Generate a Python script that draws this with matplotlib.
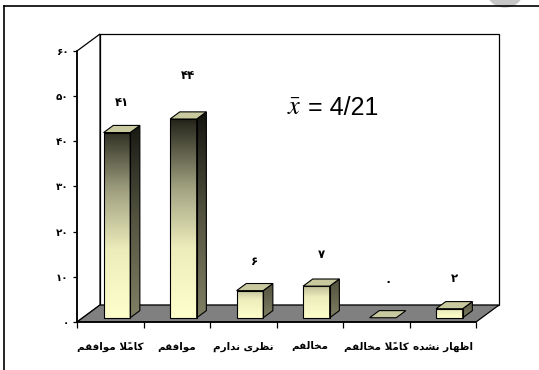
import numpy as np
import matplotlib
matplotlib.use("Agg")
import matplotlib.pyplot as plt
from matplotlib.patches import Polygon, Rectangle, Ellipse
from matplotlib.lines import Line2D
from matplotlib.colors import LinearSegmentedColormap

# ---- data -------------------------------------------------------------
categories = ["کاملاً موافقم", "موافقم", "نظری ندارم", "مخالفم", "کاملاً مخالفم", "اظهار نشده"]
counts = [41, 44, 6, 7, 0, 2]
y_ticks = [0, 10, 20, 30, 40, 50, 60]
mean_label = "4/21"

# ---- layout -----------------------------------------------------------
label_lift = [7.5, 10.6, 7.5, 8.0, 8.9, 7.7]   # data-label height above each bar
DX, DY = 0.346, 3.76          # 3-D depth offset in data units
D0, D1 = 0.25, 0.67           # bar depth span (fraction of floor depth)
BAR_LEFT, BAR_W = 0.40, 0.40  # bar front face within its category slot

FA = str.maketrans("0123456789", "۰۱۲۳۴۵۶۷۸۹")

# Presentation forms: (isolated, final[, initial, medial])
FORMS = {
    'ا': ('\uFE8D', '\uFE8E'),
    'د': ('\uFEA9', '\uFEAA'),
    'ر': ('\uFEAD', '\uFEAE'),
    'و': ('\uFEED', '\uFEEE'),
    'ک': ('\uFB8E', '\uFB8F', '\uFB90', '\uFB91'),
    'م': ('\uFEE1', '\uFEE2', '\uFEE3', '\uFEE4'),
    'ل': ('\uFEDD', '\uFEDE', '\uFEDF', '\uFEE0'),
    'ف': ('\uFED1', '\uFED2', '\uFED3', '\uFED4'),
    'ق': ('\uFED5', '\uFED6', '\uFED7', '\uFED8'),
    'ن': ('\uFEE5', '\uFEE6', '\uFEE7', '\uFEE8'),
    'ظ': ('\uFEC5', '\uFEC6', '\uFEC7', '\uFEC8'),
    'ی': ('\uFBFC', '\uFBFD', '\uFBFE', '\uFBFF'),
    'خ': ('\uFEA5', '\uFEA6', '\uFEA7', '\uFEA8'),
    'ه': ('\uFEE9', '\uFEEA', '\uFEEB', '\uFEEC'),
    'ش': ('\uFEB5', '\uFEB6', '\uFEB7', '\uFEB8'),
}
MARKS = set('\u064B\u064C\u064D\u064E\u064F\u0650\u0651\u0652')


def shape_rtl(text):
    """Join Persian letters and put them in left-to-right visual order."""
    clusters = []
    for ch in text:
        if ch in MARKS and clusters:
            clusters[-1][1] += ch
        else:
            clusters.append([ch, ''])
    glyphs = []
    n = len(clusters)
    i = 0
    while i < n:
        ch, marks = clusters[i]
        forms = FORMS.get(ch)
        if forms is None:
            glyphs.append(ch + marks)
            i += 1
            continue
        prev = clusters[i - 1][0] if i > 0 else None
        from_prev = prev is not None and len(FORMS.get(prev, ())) == 4
        if ch == 'ل' and i + 1 < n and clusters[i + 1][0] == 'ا':
            lig = '\uFEFC' if from_prev else '\uFEFB'
            glyphs.append(lig + marks + clusters[i + 1][1])
            i += 2
            continue
        nxt = clusters[i + 1][0] if i + 1 < n else None
        to_next = len(forms) == 4 and nxt in FORMS
        if from_prev and to_next:
            g = forms[3]
        elif from_prev:
            g = forms[1]
        elif to_next:
            g = forms[2]
        else:
            g = forms[0]
        glyphs.append(g + marks)
        i += 1
    return ''.join(reversed(glyphs))


plt.rcParams['font.family'] = ['DejaVu Sans']
plt.rcParams['mathtext.fontset'] = 'stix'

fig = plt.figure(figsize=(5.39, 3.70), dpi=100)
XMAX, YMAX = 6.4, 64.0
ax = fig.add_axes([77 / 539, 48 / 370, XMAX * 66.5 / 539, YMAX * 4.517 / 370])
ax.set_xlim(0, XMAX)
ax.set_ylim(0, YMAX)
ax.patch.set_visible(False)

# outer frame and corner mark
fig.add_artist(Ellipse((505 / 539, 1 + 12 / 370), 38 / 539, 38 / 370,
                       transform=fig.transFigure, color='#c6c6c6', zorder=0))
fig.add_artist(Line2D([4 / 539, 4 / 539], [0, 1 - 6 / 370], transform=fig.transFigure,
                      color='black', lw=1.2))
fig.add_artist(Line2D([4 / 539, 1], [1 - 6 / 370, 1 - 6 / 370], transform=fig.transFigure,
                      color='black', lw=1.2))

n = len(categories)
top = y_ticks[-1]

# walls and floor
ax.add_patch(Polygon([(DX, DY), (n + DX, DY), (n + DX, top + DY), (DX, top + DY)],
                     closed=True, fc='white', ec='black', lw=0.9, clip_on=False, zorder=1))
ax.add_patch(Polygon([(0, 0), (DX, DY), (DX, top + DY), (0, top)],
                     closed=True, fc='white', ec='black', lw=0.9, clip_on=False, zorder=1))
ax.add_patch(Polygon([(0, 0), (n, 0), (n + DX, DY), (DX, DY)],
                     closed=True, fc='#808080', ec='black', lw=0.9, clip_on=False, zorder=1.2))

front_cmap = LinearSegmentedColormap.from_list(
    'front', [(0.0, '#FFFFCC'), (0.35, '#EDEDBC'), (0.65, '#A3A383'), (1.0, '#24241A')])
side_cmap = LinearSegmentedColormap.from_list(
    'side', [(0.0, '#808064'), (0.5, '#535340'), (1.0, '#141410')])

ddx, ddy = (D1 - D0) * DX, (D1 - D0) * DY
for i, v in enumerate(counts):
    x0 = i + BAR_LEFT
    x1 = x0 + BAR_W
    y0 = D0 * DY
    y1 = v + y0
    t_top = min(1.0, 0.45 + v / 80)
    grad = np.linspace(0, t_top, 256)[:, None]
    if v > 0:
        ax.imshow(grad, cmap=front_cmap, vmin=0, vmax=1, origin='lower', aspect='auto',
                  extent=(x0, x1, y0, y1), zorder=2, interpolation='bilinear')
        ax.add_patch(Rectangle((x0, y0), BAR_W, v, fc='none', ec='black', lw=0.8, zorder=2.2))
        side = Polygon([(x1, y0), (x1 + ddx, y0 + ddy), (x1 + ddx, y1 + ddy), (x1, y1)],
                       closed=True, fc='none', ec='black', lw=0.8, zorder=2.2)
        im = ax.imshow(grad, cmap=side_cmap, vmin=0, vmax=1, origin='lower', aspect='auto',
                       extent=(x1, x1 + ddx, y0, y1 + ddy), zorder=2, interpolation='bilinear')
        ax.add_patch(side)
        im.set_clip_path(side)
    ax.add_patch(Polygon([(x0, y1), (x1, y1), (x1 + ddx, y1 + ddy), (x0 + ddx, y1 + ddy)],
                         closed=True, fc='#C9C9A0', ec='black', lw=0.8, zorder=2.3))
    ax.text(x0 + BAR_W / 2 + ddx / 2, v + label_lift[i], str(v).translate(FA),
            ha='center', va='center', fontsize=8.5, fontweight='bold', zorder=3)

# axes lines, ticks and labels
for s in ('top', 'right'):
    ax.spines[s].set_visible(False)
ax.spines['left'].set_bounds(0, top)
ax.spines['bottom'].set_bounds(0, n)
for s in ('left', 'bottom'):
    ax.spines[s].set_linewidth(1.2)
    ax.spines[s].set_zorder(4)

ax.set_yticks(y_ticks)
ax.set_yticklabels([str(t).translate(FA) for t in y_ticks], fontsize=7.5, fontweight='bold')
ax.tick_params(axis='y', direction='out', length=3, width=0.9, pad=3)

ax.set_xticks(np.arange(n + 1))
ax.set_xticklabels([])
ax.tick_params(axis='x', which='major', direction='out', length=4, width=0.9)
ax.set_xticks(np.arange(n) + 0.5, minor=True)
ax.set_xticklabels([shape_rtl(c) for c in categories], minor=True,
                   fontsize=7.5, fontweight='bold')
ax.tick_params(axis='x', which='minor', length=0, pad=14)

# mean annotation
ax.text(3.16, 45.8, r'$\bar{x}$', fontsize=19, va='baseline', ha='left')
ax.text(3.47, 45.8, '= ' + mean_label, fontsize=18, va='baseline', ha='left',
        family='Liberation Sans')

fig.savefig('out.png', dpi=100)
